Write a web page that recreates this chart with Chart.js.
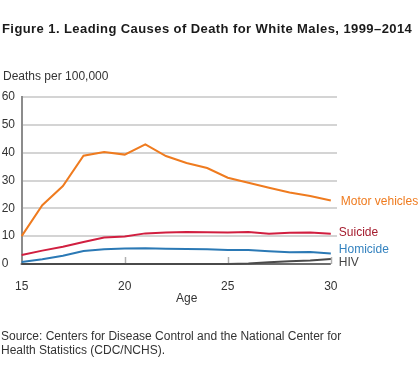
<!DOCTYPE html>
<html>
<head>
<meta charset="utf-8">
<script src="https://cdn.jsdelivr.net/npm/chart.js@4.4.1/dist/chart.umd.min.js"></script>
<style>
  body { margin: 0; background: #fff; font-family: "Liberation Sans", Arial, sans-serif; }
  #wrap { position: relative; width: 420px; height: 374px; }
  #wrap canvas { position: absolute; left: 0; top: 0; }
  .txt { position: absolute; white-space: nowrap; color: #333; font-size: 12px; line-height: 14px; }
</style>
</head>
<body>
<div id="wrap">
  <canvas id="chart" width="420" height="374"></canvas>
  <div class="txt" style="left:2px;top:21px;font-size:13px;line-height:15px;letter-spacing:0.42px;font-weight:bold;color:#1a1a1a">Figure 1. Leading Causes of Death for White Males, 1999–2014</div>
  <div class="txt" style="left:3px;top:69px">Deaths per 100,000</div>
  <div class="txt" style="left:176px;top:291px">Age</div>
  <div class="txt" style="left:1px;top:329px">Source: Centers for Disease Control and the National Center for<br>Health Statistics (CDC/NCHS).</div>
</div>
<script>
// Datos
const edades = [15, 16, 17, 18, 19, 20, 21, 22, 23, 24, 25, 26, 27, 28, 29, 30];
const vehiculos = [10, 21.1, 28.0, 38.9, 40.2, 39.3, 43.0, 38.8, 36.3, 34.5, 31.0, 29.2, 27.4, 25.7, 24.4, 22.8];
const suicidio = [3.2, 4.8, 6.2, 7.9, 9.5, 9.9, 11.0, 11.3, 11.5, 11.4, 11.3, 11.5, 10.9, 11.2, 11.3, 10.9];
const homicidio = [0.7, 1.7, 3.0, 4.7, 5.3, 5.6, 5.7, 5.5, 5.4, 5.3, 5.0, 5.0, 4.6, 4.2, 4.3, 3.8];
const vih = [0, 0, 0, 0, 0, 0, 0, 0, 0, 0, 0, 0.2, 0.6, 1.0, 1.3, 1.8];
const ticksX = [15, 20, 25, 30];
const ticksY = [0, 10, 20, 30, 40, 50, 60];

const FUENTE = '"Liberation Sans", Arial, sans-serif';

const series = [
  { nombre: 'Motor vehicles', datos: vehiculos, linea: '#ef7b1f', texto: '#ef7b1f', dx: 10, dy: 1 },
  { nombre: 'Suicide', datos: suicidio, linea: '#d11f40', texto: '#a51c2e', dx: 8, dy: -1 },
  { nombre: 'Homicide', datos: homicidio, linea: '#2b79b5', texto: '#3382bf', dx: 8, dy: -4 },
  { nombre: 'HIV', datos: vih, linea: '#4a4a4a', texto: '#444', dx: 8, dy: 3.5 }
];

// Eje inferior, marcas y etiquetas al final de cada serie
const decorado = {
  id: 'decorado',
  beforeDatasetsDraw(chart) {
    const { ctx, scales: { x, y } } = chart;
    const y0 = y.getPixelForValue(0);
    ctx.save();
    ctx.strokeStyle = '#b0b0b0';
    ctx.lineWidth = 1.5;
    ticksX.slice(1).forEach(v => {
      const px = Math.round(x.getPixelForValue(v)) + 0.5;
      ctx.beginPath();
      ctx.moveTo(px, y0);
      ctx.lineTo(px, y0 - 7);
      ctx.stroke();
    });
    ctx.strokeStyle = '#6e6e6e';
    ctx.lineWidth = 2;
    ctx.beginPath();
    ctx.moveTo(x.getPixelForValue(15) - 1, y0);
    ctx.lineTo(x.getPixelForValue(30), y0);
    ctx.stroke();
    ctx.restore();
  },
  afterDatasetsDraw(chart) {
    const { ctx, scales: { x, y } } = chart;
    ctx.save();
    ctx.font = '12px ' + FUENTE;
    ctx.textBaseline = 'middle';
    ctx.textAlign = 'left';
    series.forEach(s => {
      const ultimo = s.datos[s.datos.length - 1];
      const px = x.getPixelForValue(edades[edades.length - 1]);
      const py = y.getPixelForValue(ultimo);
      ctx.fillStyle = s.texto;
      ctx.fillText(s.nombre, px + s.dx, py + s.dy);
    });
    ctx.restore();
  }
};

new Chart(document.getElementById('chart'), {
  type: 'line',
  data: {
    datasets: series.map(s => ({
      label: s.nombre,
      data: edades.map((e, i) => ({ x: e, y: s.datos[i] })),
      borderColor: s.linea,
      borderWidth: 2,
      pointRadius: 0,
      tension: 0,
      clip: 4
    }))
  },
  options: {
    responsive: false,
    animation: false,
    events: [],
    layout: { padding: { left: 1, right: 83, top: 97, bottom: 80 } },
    plugins: { legend: { display: false }, tooltip: { enabled: false } },
    scales: {
      x: {
        type: 'linear',
        min: 15,
        max: 30.3,
        afterBuildTicks: s => { s.ticks = ticksX.map(v => ({ value: v })); },
        afterFit: s => { s.height = 30; },
        grid: { display: false, drawTicks: false },
        border: { display: false },
        ticks: { padding: 15, maxRotation: 0, color: '#333', font: { size: 12, family: FUENTE } }
      },
      y: {
        min: 0,
        max: 60,
        afterBuildTicks: s => { s.ticks = ticksY.map(v => ({ value: v })); },
        afterFit: s => { s.width = 20; },
        grid: {
          color: c => c.tick && c.tick.value === 0 ? 'rgba(0,0,0,0)' : '#d4d4d4',
          lineWidth: 2,
          drawTicks: false
        },
        border: { display: true, color: '#8c8c8c', width: 2 },
        ticks: { crossAlign: 'far', padding: 0, color: '#333', font: { size: 12, family: FUENTE } }
      }
    }
  },
  plugins: [decorado]
});
</script>
</body>
</html>
